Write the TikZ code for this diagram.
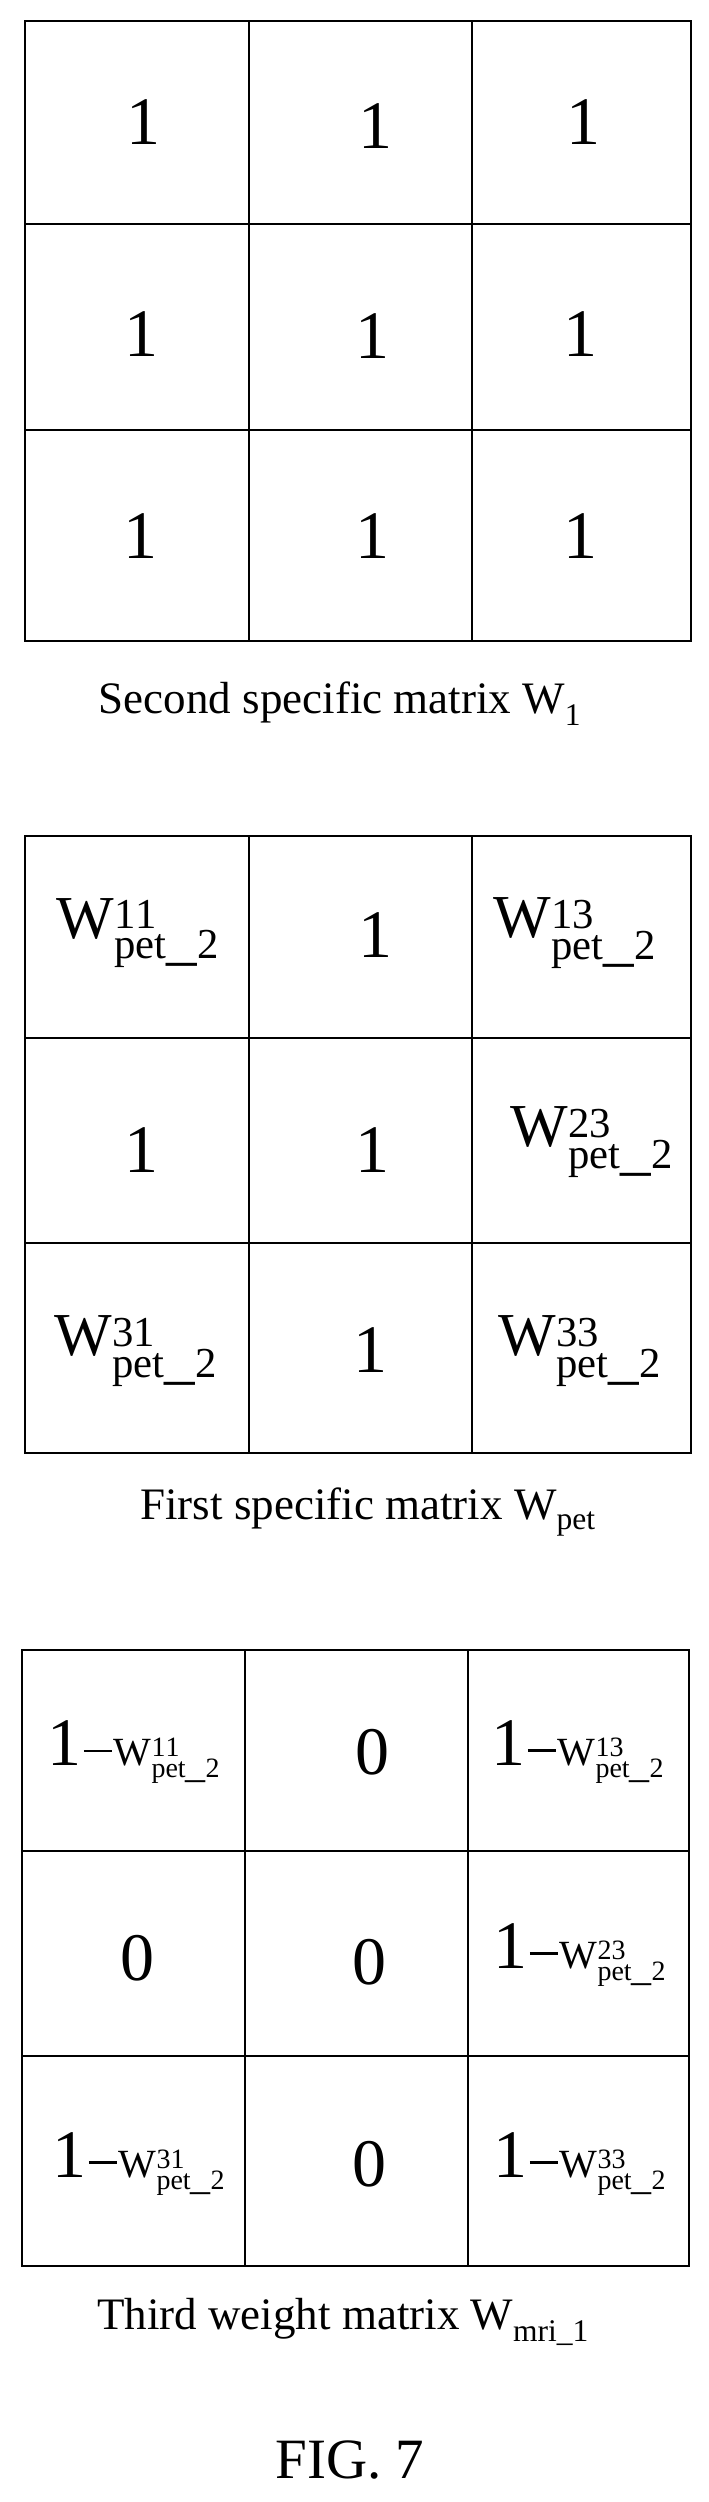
\documentclass[tikz,border=0pt]{standalone}
\usepackage{fontspec}
\setmainfont{Liberation Serif}
\begin{document}
\begin{tikzpicture}[x=1pt,y=-1pt,
  grid/.style={line width=2.6pt},
  cell/.style={font=\fontsize{68}{68}\selectfont, inner sep=0pt},
  wcell/.style={font=\fontsize{61}{61}\selectfont, inner sep=0pt},
  mcell/.style={font=\fontsize{68}{68}\selectfont, inner sep=0pt},
  captext/.style={font=\fontsize{45}{45}\selectfont, inner sep=0pt},
  figtext/.style={font=\fontsize{57}{57}\selectfont, inner sep=0pt}]
\newcommand{\Wp}[1]{$\mathrm{W}^{\mathrm{#1}}_{\mathrm{pet\_2}}$}
\newcommand{\Wm}[1]{1\kern2pt\raisebox{14pt}{\rule{28pt}{2.4pt}}\kern2pt{\fontsize{40}{40}\selectfont$\mathrm{W}^{\mathrm{#1}}_{\mathrm{pet\_2}}$}}
\useasboundingbox (0,0) rectangle (709,2502);
% matrix 1
\draw[grid] (25,21) rectangle (691,641);
\draw[grid] (249,21) -- (249,641) (472,21) -- (472,641)
            (25,224) -- (691,224) (25,430) -- (691,430);
\node[cell] (a11) at (143,122) {1};
\node[cell] (a12) at (375,126) {1};
\node[cell] (a13) at (583,122) {1};
\node[cell] (a21) at (141,334) {1};
\node[cell] (a22) at (372,336) {1};
\node[cell] (a23) at (580,334) {1};
\node[cell] (a31) at (140,536) {1};
\node[cell] (a32) at (372,536) {1};
\node[cell] (a33) at (580,536) {1};
\node[captext] (c1) at (340,704) {Second specific matrix W\textsubscript{1}};
% matrix 2
\draw[grid] (25,836) rectangle (691,1453);
\draw[grid] (249,836) -- (249,1453) (472,836) -- (472,1453)
            (25,1038) -- (691,1038) (25,1243) -- (691,1243);
\node[wcell] (b11) at (138,933) {\Wp{11}};
\node[cell] (b12) at (375,935) {1};
\node[wcell] (b13) at (575,933) {\Wp{13}};
\node[cell] (b21) at (141,1150) {1};
\node[cell] (b22) at (372,1150) {1};
\node[wcell] (b23) at (592,1142) {\Wp{23}};
\node[wcell] (b31) at (136,1351) {\Wp{31}};
\node[cell] (b32) at (370,1350) {1};
\node[wcell] (b33) at (580,1351) {\Wp{33}};
\node[captext] (c2) at (368,1512) {First specific matrix W\textsubscript{pet}};
% matrix 3
\draw[grid] (22,1650) rectangle (689,2266);
\draw[grid] (245,1650) -- (245,2266) (468,1650) -- (468,2266)
            (22,1851) -- (689,1851) (22,2056) -- (689,2056);
\node[mcell] (m11) at (134,1752) {\Wm{11}};
\node[cell] (m12) at (372,1752) {0};
\node[mcell] (m13) at (578,1752) {\Wm{13}};
\node[cell] (m21) at (137,1958) {0};
\node[cell] (m22) at (369,1962) {0};
\node[mcell] (m23) at (580,1955) {\Wm{23}};
\node[mcell] (m31) at (139,2164) {\Wm{31}};
\node[cell] (m32) at (369,2164) {0};
\node[mcell] (m33) at (580,2164) {\Wm{33}};
\node[captext] (c3) at (343,2322) {Third weight matrix W\textsubscript{mri\_1}};
\node[figtext] (f) at (350,2460) {FIG. 7};
\end{tikzpicture}
\end{document}
